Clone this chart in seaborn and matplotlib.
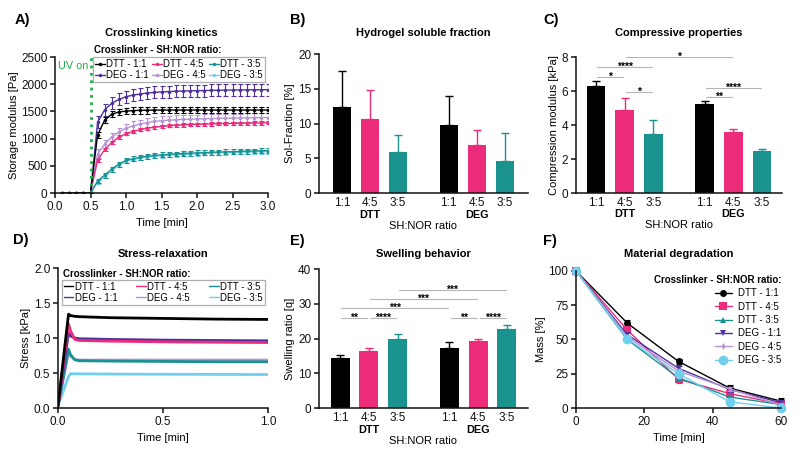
import numpy as np
import pandas as pd
import seaborn as sns
import matplotlib.pyplot as plt

# series shared by all panels
names = ['DTT - 1:1', 'DTT - 4:5', 'DTT - 3:5', 'DEG - 1:1', 'DEG - 4:5', 'DEG - 3:5']
colors = ['#000000', '#EC2C7B', '#1A938F', '#50309E', '#B692D6', '#70CFEE']

# A) crosslinking kinetics (storage modulus, Pa)
time_a = [0.1, 0.2, 0.3, 0.4, 0.5, 0.6, 0.7, 0.8, 0.9, 1.0, 1.1, 1.2, 1.3, 1.4, 1.5,
          1.6, 1.7, 1.8, 1.9, 2.0, 2.1, 2.2, 2.3, 2.4, 2.5, 2.6, 2.7, 2.8, 2.9, 3.0]
g_dtt_11 = [0, 0, 0, 0, 0, 1070, 1340, 1450, 1490, 1505, 1515, 1520, 1520, 1525, 1525,
            1525, 1525, 1525, 1525, 1525, 1525, 1525, 1525, 1525, 1525, 1525, 1525, 1525, 1525, 1525]
g_dtt_45 = [0, 0, 0, 0, 0, 600, 800, 930, 1030, 1090, 1130, 1165, 1190, 1210, 1225,
            1235, 1245, 1252, 1258, 1262, 1266, 1270, 1273, 1276, 1279, 1282, 1284, 1286, 1288, 1290]
g_dtt_35 = [0, 0, 0, 0, 0, 220, 330, 440, 530, 600, 630, 655, 675, 690, 700,
            710, 718, 725, 731, 737, 742, 747, 752, 756, 760, 764, 768, 772, 776, 780]
g_deg_11 = [0, 0, 0, 0, 0, 1300, 1530, 1650, 1720, 1770, 1800, 1820, 1838, 1850, 1858,
            1865, 1870, 1875, 1878, 1881, 1884, 1887, 1889, 1891, 1893, 1895, 1897, 1898, 1899, 1900]
g_deg_45 = [0, 0, 0, 0, 0, 720, 900, 1030, 1120, 1190, 1235, 1270, 1295, 1315, 1328,
            1338, 1346, 1352, 1357, 1361, 1365, 1368, 1371, 1374, 1377, 1380, 1382, 1384, 1386, 1388]
g_deg_35 = [0, 0, 0, 0, 0, 200, 320, 425, 515, 585, 615, 640, 660, 675, 686,
            695, 703, 710, 716, 722, 727, 732, 737, 741, 745, 749, 752, 755, 758, 760]
sd_a = [60, 30, 45, 110, 80, 35]

# B, C, E) bar charts, group DTT then DEG
ratio_labels = ['1:1', '4:5', '3:5']
group_labels = ['DTT', 'DEG']
bar_colors = ['#000000', '#EC2C7B', '#1A938F']
bar_pos = [0, 1, 2, 3.8, 4.8, 5.8]

sol_mean = [12.4, 10.6, 5.9, 9.8, 6.9, 4.6]
sol_sd = [5.1, 4.2, 2.5, 4.2, 2.2, 4.0]

comp_mean = [6.3, 4.9, 3.5, 5.25, 3.6, 2.5]
comp_sd = [0.3, 0.7, 0.8, 0.15, 0.15, 0.1]
comp_sig = [(0, 1, 6.85, '*'), (0, 2, 7.4, '****'), (1, 2, 5.95, '*'),
            (1, 4, 8.0, '*'), (3, 4, 5.65, '**'), (3, 5, 6.2, '****')]

swell_mean = [14.5, 16.5, 19.8, 17.4, 19.3, 22.6]
swell_sd = [0.7, 0.7, 1.5, 1.6, 0.7, 1.3]
swell_sig = [(0, 1, 26, '**'), (1, 2, 26, '****'), (0, 3, 28.8, '***'), (1, 4, 31.5, '***'),
             (2, 5, 34.1, '***'), (3, 4, 26, '**'), (4, 5, 26, '****')]

# D) stress relaxation (kPa)
time_d = [0.0, 0.05, 0.06, 0.08, 0.10, 0.25, 0.50, 0.75, 1.0]
s_dtt_11 = [0.03, 1.34, 1.32, 1.31, 1.305, 1.29, 1.28, 1.27, 1.265]
s_dtt_45 = [0.03, 1.20, 1.10, 0.98, 0.965, 0.955, 0.945, 0.94, 0.935]
s_dtt_35 = [0.03, 0.84, 0.76, 0.69, 0.675, 0.67, 0.665, 0.66, 0.66]
s_deg_11 = [0.03, 1.07, 1.03, 1.00, 0.99, 0.98, 0.97, 0.965, 0.96]
s_deg_45 = [0.03, 0.80, 0.74, 0.69, 0.685, 0.685, 0.685, 0.685, 0.685]
s_deg_35 = [0.03, 0.45, 0.49, 0.49, 0.488, 0.485, 0.482, 0.48, 0.478]

# F) degradation (mass %)
time_f = [0, 15, 30, 45, 60]
m_dtt_11 = [100, 62, 34, 14.5, 5]
m_dtt_45 = [100, 57, 21, 10.5, 3]
m_dtt_35 = [100, 50, 22, 8, 2.5]
m_deg_11 = [100, 53.5, 29, 13.5, 4]
m_deg_45 = [100, 52, 27, 14, 2]
m_deg_35 = [100, 50.5, 25, 4.5, 0]
sd_f = [2, 2.5, 1.5, 2, 1.5, 1.5]
markers_f = ['o', 's', '^', 'v', 'd', 'o']
msize_f = [5, 5.5, 5, 5, 3.5, 7]

sns.set_theme(style='ticks')
plt.rcParams['font.family'] = ['Liberation Sans', 'DejaVu Sans']
plt.rcParams.update({
    'axes.linewidth': 1.1, 'axes.edgecolor': '#111111',
    'xtick.major.width': 1.1, 'ytick.major.width': 1.1,
    'xtick.major.size': 3.5, 'ytick.major.size': 3.5,
    'xtick.labelsize': 8.5, 'ytick.labelsize': 8.5, 'axes.labelsize': 8,
    'xtick.major.pad': 2, 'ytick.major.pad': 2,
    'text.color': 'black', 'xtick.color': '#111111', 'ytick.color': '#111111',
    'axes.labelcolor': 'black',
})

fig = plt.figure(figsize=(8, 4.59), dpi=100)
ax_a = fig.add_axes([0.06875, 0.5795, 0.26625, 0.2963])
ax_b = fig.add_axes([0.39875, 0.5795, 0.26125, 0.3028])
ax_c = fig.add_axes([0.72, 0.5795, 0.2575, 0.2963])
ax_d = fig.add_axes([0.0725, 0.1111, 0.2625, 0.305])
ax_e = fig.add_axes([0.39875, 0.1111, 0.26125, 0.3028])
ax_f = fig.add_axes([0.72, 0.1111, 0.25625, 0.2985])


def row_legend(ax, anchor, fs, colsp):
    # rows: DTT on top, DEG below
    h, l = ax.get_legend_handles_labels()
    lookup = dict(zip(l, h))
    order = [names[0], names[3], names[1], names[4], names[2], names[5]]
    leg = ax.legend([lookup[n] for n in order], order, ncol=3, loc='upper right',
                    bbox_to_anchor=anchor, fontsize=fs, frameon=True, fancybox=False,
                    edgecolor='#9a9a9a', handlelength=1.0, handletextpad=0.15,
                    columnspacing=colsp, borderpad=0.2, labelspacing=0.1, borderaxespad=0)
    leg.get_frame().set_linewidth(0.9)
    return leg


# ---- A ----
series_a = [g_dtt_11, g_dtt_45, g_dtt_35, g_deg_11, g_deg_45, g_deg_35]
for i in [5, 4, 3, 2, 1, 0]:
    sns.lineplot(x=time_a, y=series_a[i], color=colors[i], marker='o', markersize=2.5,
                 markeredgewidth=0, linewidth=1, label=names[i], ax=ax_a)
    ax_a.errorbar(time_a[5:], series_a[i][5:], yerr=sd_a[i], fmt='none', ecolor=colors[i],
                  elinewidth=0.8, capsize=1.8, capthick=0.8)
ax_a.axvline(0.5, color='#1DAF4B', ls=':', lw=2)
ax_a.text(0.47, 2330, 'UV on', color='#1DAF4B', fontsize=7.8, ha='right', va='center')
ax_a.set_xlim(0, 3)
ax_a.set_ylim(0, 2500)
ax_a.set_xticks([0, 0.5, 1.0, 1.5, 2.0, 2.5, 3.0])
ax_a.set_yticks([0, 500, 1000, 1500, 2000, 2500])
ax_a.set_xlabel('Time [min]')
ax_a.set_ylabel('Storage modulus [Pa]', labelpad=1)
ax_a.set_title('Crosslinking kinetics', fontsize=8, fontweight='bold', pad=15)
row_legend(ax_a, (0.985, 1.0), 6.9, 0.35)
ax_a.text(0.185, 1.015, 'Crosslinker - SH:NOR ratio:', transform=ax_a.transAxes,
          fontsize=7, fontweight='bold', va='bottom')


# ---- bar panels ----
def bar_panel(ax, means, sds, ylim, yticks, ylabel, title, pad, xlim, sig=()):
    df = pd.DataFrame({'pos': bar_pos, 'value': means, 'ratio': ratio_labels * 2})
    sns.barplot(data=df, x='pos', y='value', hue='ratio',
                palette=dict(zip(ratio_labels, bar_colors)), native_scale=True, saturation=1,
                width=0.66, dodge=False, legend=False, linewidth=0, errorbar=None, ax=ax)
    for p, m, s, c in zip(bar_pos, means, sds, bar_colors * 2):
        ax.errorbar(p, m, yerr=[[0], [s]], fmt='none', ecolor=c, elinewidth=1,
                    capsize=2.6, capthick=1)
    for i, j, y, stars in sig:
        ax.plot([bar_pos[i] + 0.05, bar_pos[j] - 0.05], [y, y], color='#b5b5b5', lw=0.8)
        ax.text((bar_pos[i] + bar_pos[j]) / 2, y, stars, fontsize=7.5, fontweight='bold',
                ha='center', va='center')
    ax.set_xlim(*xlim)
    ax.set_ylim(*ylim)
    ax.set_yticks(yticks)
    ax.set_xticks(bar_pos)
    ax.set_xticklabels(ratio_labels * 2)
    ax.tick_params(axis='x', length=0, pad=3)
    for k, g in enumerate(group_labels):
        ax.text(bar_pos[3 * k + 1], -0.155, g, transform=ax.get_xaxis_transform(),
                ha='center', va='center', fontsize=7.8, fontweight='bold')
    ax.set_xlabel('SH:NOR ratio')
    ax.xaxis.set_label_coords(0.5, -0.2)
    ax.set_ylabel(ylabel, labelpad=2)
    ax.set_title(title, fontsize=8, fontweight='bold', pad=pad)


bar_panel(ax_b, sol_mean, sol_sd, (0, 20), [0, 5, 10, 15, 20], 'Sol-Fraction [%]',
          'Hydrogel soluble fraction', 13, (-0.82, 6.62))
bar_panel(ax_c, comp_mean, comp_sd, (0, 8), [0, 2, 4, 6, 8], 'Compression modulus [kPa]',
          'Compressive properties', 15, (-0.7, 6.5), comp_sig)
bar_panel(ax_e, swell_mean, swell_sd, (0, 40), [0, 10, 20, 30, 40], 'Swelling ratio [q]',
          'Swelling behavior', 8.5, (-0.73, 6.53), swell_sig)

# ---- D ----
series_d = [s_dtt_11, s_dtt_45, s_dtt_35, s_deg_11, s_deg_45, s_deg_35]
for i in [5, 4, 2, 3, 1, 0]:
    sns.lineplot(x=time_d, y=series_d[i], color=colors[i], linewidth=2, label=names[i], ax=ax_d)
ax_d.set_xlim(0, 1)
ax_d.set_ylim(0, 2)
ax_d.set_xticks([0, 0.5, 1.0])
ax_d.set_yticks([0, 0.5, 1.0, 1.5, 2.0])
ax_d.xaxis.set_major_formatter('{x:.1f}')
ax_d.yaxis.set_major_formatter('{x:.1f}')
ax_d.set_xlabel('Time [min]')
ax_d.set_ylabel('Stress [kPa]', labelpad=2)
ax_d.set_title('Stress-relaxation', fontsize=8, fontweight='bold', pad=8)
leg_d = row_legend(ax_d, (0.985, 0.915), 6.9, 2.0)
for line in leg_d.get_lines():
    line.set_linewidth(1)
ax_d.text(0.025, 0.925, 'Crosslinker - SH:NOR ratio:', transform=ax_d.transAxes,
          fontsize=7, fontweight='bold', va='bottom')

# ---- F ----
series_f = [m_dtt_11, m_dtt_45, m_dtt_35, m_deg_11, m_deg_45, m_deg_35]
for i in range(6):
    sns.lineplot(x=time_f, y=series_f[i], color=colors[i], marker=markers_f[i],
                 markersize=msize_f[i], markeredgewidth=0, linewidth=1, label=names[i],
                 ax=ax_f, clip_on=False)
    ax_f.errorbar(time_f, series_f[i], yerr=sd_f[i], fmt='none', ecolor=colors[i],
                  elinewidth=0.8, capsize=2, capthick=0.8, clip_on=False)
ax_f.set_xlim(0, 60)
ax_f.set_ylim(0, 100)
ax_f.set_xticks([0, 20, 40, 60])
ax_f.set_yticks([0, 25, 50, 75, 100])
ax_f.set_xlabel('Time [min]')
ax_f.set_ylabel('Mass [%]', labelpad=2)
ax_f.set_title('Material degradation', fontsize=8, fontweight='bold', pad=10)
ax_f.legend(loc='upper right', bbox_to_anchor=(1.02, 1.0), frameon=False, fontsize=7,
            title='Crosslinker - SH:NOR ratio:', alignment='right',
            title_fontproperties={'weight': 'bold', 'size': 7},
            handlelength=1.8, handletextpad=0.6, labelspacing=0.35, borderaxespad=0)

sns.despine(fig)

for lab, x, y in [('A)', 15, 20), ('B)', 290, 20), ('C)', 543, 20),
                  ('D)', 13, 240), ('E)', 290, 241), ('F)', 543, 241)]:
    fig.text(x / 800, 1 - y / 459, lab, fontsize=10.5, fontweight='bold', va='center')

fig.savefig('out.png', dpi=100)
